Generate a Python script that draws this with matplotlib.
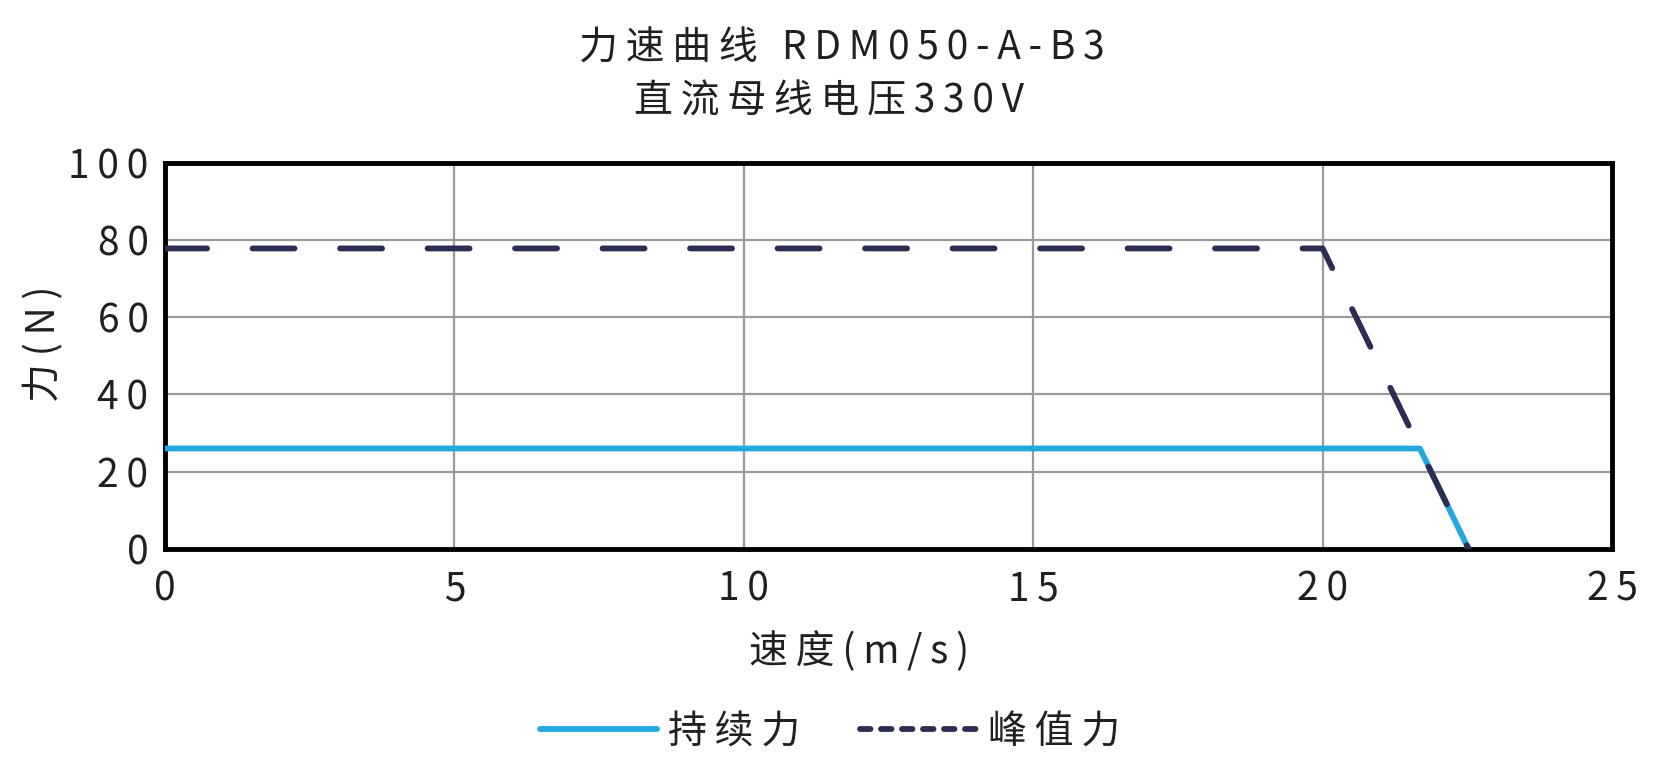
import matplotlib
matplotlib.use("Agg")
import matplotlib.pyplot as plt
from matplotlib.lines import Line2D
from matplotlib.ticker import FuncFormatter

plt.rcParams['font.family'] = ['Noto Sans CJK SC', 'DejaVu Sans']

# data
cont_x = [0, 21.68, 22.52]
cont_y = [26, 26, 0]
peak_x = [0, 20, 22.52]
peak_y = [77.8, 77.8, 0]
x_ticks = [0, 5, 10, 15, 20, 25]
y_ticks = [0, 20, 40, 60, 80, 100]

BLUE = "#23a9df"
NAVY = "#2b2d55"
TEXT = "#231f20"
GRID = "#9a9a9a"
FS = 28


def spaced(s):
    # the reference text is letter-spaced
    return "\u2009".join(s)


fig = plt.figure(figsize=(16.74, 7.83), dpi=100)
ax = fig.add_axes([0.0986, 0.299, 0.8644, 0.4932])

ax.plot(cont_x, cont_y, color=BLUE, lw=4.2, solid_capstyle="round", zorder=3)
ax.plot(peak_x, peak_y, color=NAVY, lw=4.2, dashes=(7.2, 7.8),
        dash_capstyle="round", zorder=4)

ax.set_xlim(0, 25)
ax.set_ylim(0, 100)
ax.set_xticks(x_ticks)
ax.set_yticks(y_ticks)
ax.xaxis.set_major_formatter(FuncFormatter(lambda v, _: spaced(f"{v:g}")))
ax.yaxis.set_major_formatter(FuncFormatter(lambda v, _: spaced(f"{v:g}")))
ax.grid(True, color=GRID, lw=1.6)
ax.set_axisbelow(True)
for sp in ax.spines.values():
    sp.set_linewidth(3.5)
    sp.set_color("black")
ax.tick_params(length=0, labelsize=FS, colors=TEXT)
ax.tick_params(axis="x", pad=15)
ax.tick_params(axis="y", pad=12)

ax.set_xlabel(spaced("速度(m/s)"), fontsize=FS, color=TEXT)
ax.xaxis.set_label_coords(0.48, -0.215)
ax.set_ylabel(spaced("力(N)"), fontsize=FS, color=TEXT)
ax.yaxis.set_label_coords(-0.07, 0.53)

fig.text(0.503, 0.938, spaced("力速曲线 RDM050-A-B3"), ha="center", va="center",
         fontsize=FS, color=TEXT)
fig.text(0.495, 0.871, spaced("直流母线电压330V"), ha="center", va="center",
         fontsize=FS, color=TEXT)

handles = [
    Line2D([], [], color=BLUE, lw=4.2, solid_capstyle="round"),
    Line2D([], [], color=NAVY, lw=4.2, dashes=(1.8, 1.8), dash_capstyle="round"),
]
fig.legend(handles, [spaced("持续力"), spaced("峰值力")], loc="center",
           bbox_to_anchor=(0.496, 0.065), ncol=2, frameon=False, fontsize=FS,
           handlelength=3.0, handletextpad=0.3, columnspacing=1.53,
           labelcolor=TEXT)

fig.savefig("out.png", dpi=100)
